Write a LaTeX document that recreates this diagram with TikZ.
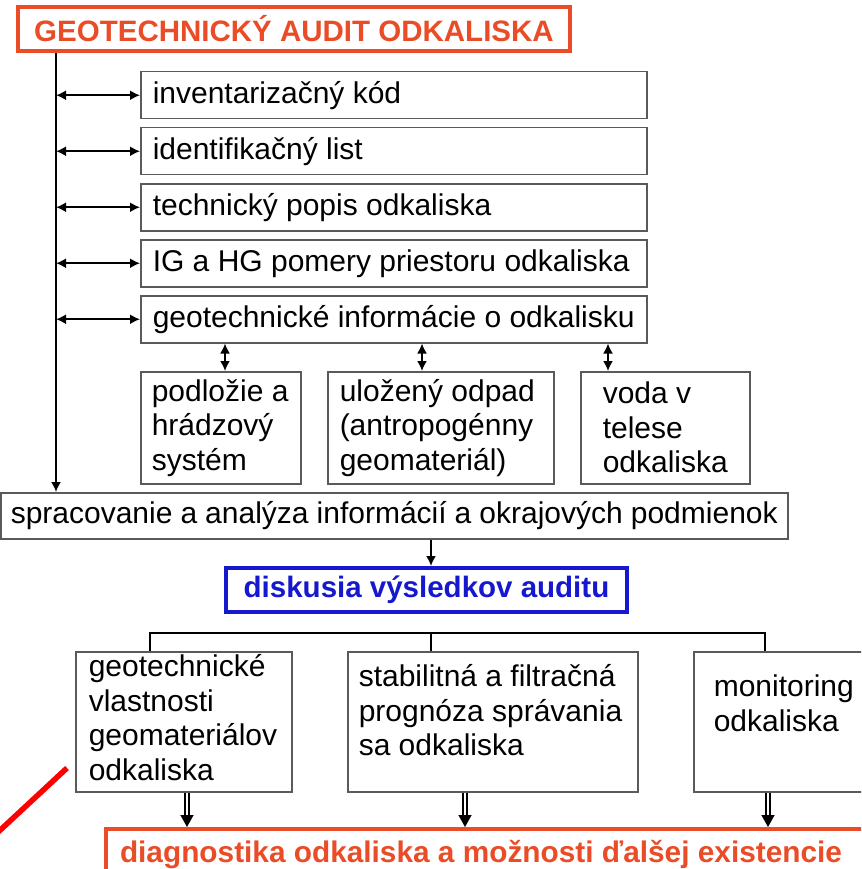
\documentclass[tikz,border=0pt]{standalone}
\usepackage{fontspec}
\setmainfont{Liberation Sans}
\usepackage{tikz}
\usetikzlibrary{arrows.meta}
\definecolor{auditred}{RGB}{233,76,38}
\definecolor{auditblue}{RGB}{22,24,205}
\definecolor{boxgray}{RGB}{90,90,90}

\begin{document}
\begin{tikzpicture}[x=1pt, y=-1pt,
		box/.style={draw=boxgray, line width=1.5pt, anchor=north west, align=flush left, inner xsep=12pt, inner ysep=0pt, font=\fontsize{30}{34.5}\selectfont},
		lnk/.style={line width=1.8pt, {Latex[length=10pt,width=10pt]}-{Latex[length=10pt,width=10pt]}},
		feed/.style={line width=1.8pt, -{Latex[length=10pt,width=10pt]}},
		dbl/.style={double, double distance=2.6pt, line width=1.4pt, -{Triangle[length=12pt,width=13pt]}},
		head/.style={line width=4pt, text=#1, draw=#1, font=\fontsize{29.5}{34}\selectfont\bfseries}]
	\useasboundingbox (0,0) rectangle (861,869);
	\clip (0,0) rectangle (861,869);
	\pgfmathsetmacro{\gap}{56}

	\node[head=auditred, minimum width=552, minimum height=44] (audit) at (294,29) {GEOTECHNICKÝ AUDIT ODKALISKA};
	\coordinate (axis) at (56,0);

	\foreach \name/\txt [count=\i from 0] in {kod/inventarizačný kód, list/identifikačný list, popis/technický popis odkaliska, pomery/IG a HG pomery priestoru odkaliska, info/geotechnické informácie o odkalisku} {
		\node[box, minimum width=506, text width=482, minimum height=47] (\name) at (140,71+\i*\gap) {\txt};
		\draw[lnk] (axis |- \name.west) -- (\name.west);
	}

	\node[box, inner xsep=11pt, minimum width=160, text width=138, minimum height=112] (podlozie) at (140,371) {podložie a\\hrádzový\\systém};
	\node[box, minimum width=226, text width=202, minimum height=112] (odpad) at (327,371) {uložený odpad\\(antropogénny\\geomateriál)};
	\node[box, inner xsep=22pt, minimum width=169, text width=125, minimum height=112] (voda) at (580,371) {voda v\\telese\\odkaliska};
	\coordinate (c1) at (225,0);
	\coordinate (c2) at (422,0);
	\coordinate (c3) at (608,0);
	\draw[lnk] (info.south -| c1) -- (podlozie.north -| c1);
	\draw[lnk] (info.south -| c2) -- (odpad.north -| c2);
	\draw[lnk] (info.south -| c3) -- (voda.north -| c3);

	\node[box, inner xsep=10pt, minimum width=787, text width=767, minimum height=46] (analyza) at (0,492) {spracovanie a analýza informácií a okrajových podmienok};
	\draw[feed] (audit.south -| axis) -- (analyza.north -| axis);

	\node[head=auditblue, minimum width=401, minimum height=44] (diskusia) at (426.5,590) {diskusia výsledkov auditu};
	\coordinate (c4) at (431,0);
	\draw[feed] (analyza.south -| c4) -- (diskusia.north -| c4);

	\node[box, inner xsep=13pt, minimum width=216, text width=190, text height=25, text depth=115] (vlastnosti) at (75,651) {geotechnické\\vlastnosti\\geomateriálov\\odkaliska};
	\node[box, inner xsep=11pt, minimum width=290, text width=268, text height=35, text depth=105] (prognoza) at (347,651) {stabilitná a filtračná\\prognóza správania\\sa odkaliska};
	\node[box, inner xsep=20pt, minimum width=190, text width=150, text height=45, text depth=95] (monitoring) at (693,651) {monitoring\\odkaliska};
	\coordinate (c5) at (150,0);
	\coordinate (c6) at (765,0);
	\draw[line width=1.3pt] (vlastnosti.north -| c5) -- ++(0,-18) -| (monitoring.north -| c6);
	\draw[line width=1.3pt] (prognoza.north -| c4) -- ++(0,-18);

	\node[head=auditred, font=\fontsize{29.8}{34}\selectfont\bfseries, anchor=north west, align=flush left, inner xsep=14pt, minimum width=790, text width=762, minimum height=52] (diagnostika) at (104,827) {diagnostika odkaliska a možnosti ďalšej existencie};
	\coordinate (c7) at (187,0);
	\coordinate (c8) at (465,0);
	\coordinate (c9) at (768,0);
	\draw[dbl] (vlastnosti.south -| c7) -- (diagnostika.north -| c7);
	\draw[dbl] (prognoza.south -| c8) -- (diagnostika.north -| c8);
	\draw[dbl] (monitoring.south -| c9) -- (diagnostika.north -| c9);

	\draw[red, line width=5.5pt] (-4,834) -- (67,768);
\end{tikzpicture}
\end{document}
